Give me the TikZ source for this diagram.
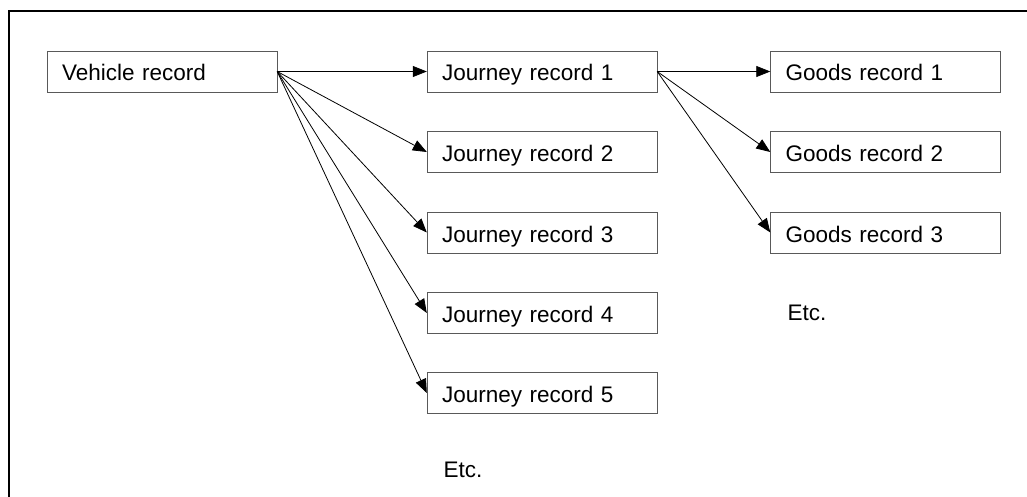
\documentclass[tikz,border=0pt]{standalone}
\usepackage{fontspec}
\setmainfont{Liberation Sans}
\usetikzlibrary{arrows.meta}

\begin{document}
\begin{tikzpicture}[x=1pt,y=1pt,
rec/.style={draw=black!65,rectangle,text width=200pt,inner xsep=15pt,text height=22pt,text depth=3pt,minimum height=41pt,align=left,font=\fontsize{22.5}{27}\selectfont},
lnk/.style={-{Triangle[length=14pt,width=11pt]},black,line width=0.8pt}]
\useasboundingbox (0,0) rectangle (1027,-497);
\draw[line width=2.2pt] (9,-510) -- (9,-11) -- (1040,-11);
\node[rec] (veh) at (162,-71.5) {Vehicle record};
\node[rec] (j1) at (542,-71.5) {Journey record 1};
\node[rec] (j2) at (542,-152) {Journey record 2};
\node[rec] (j3) at (542,-232.5) {Journey record 3};
\node[rec] (j4) at (542,-313) {Journey record 4};
\node[rec] (j5) at (542,-393) {Journey record 5};
\node[rec] (g1) at (885.5,-71.5) {Goods record 1};
\node[rec] (g2) at (885.5,-152) {Goods record 2};
\node[rec] (g3) at (885.5,-232.5) {Goods record 3};
\node[anchor=west,font=\fontsize{22.5}{27}\selectfont] (etcg) at (784,-313) {Etc.};
\node[anchor=west,font=\fontsize{22.5}{27}\selectfont] (etcj) at (440,-470) {Etc.};
\draw[lnk] (veh.east) -- (j1.west);
\draw[lnk] (veh.east) -- (j2.west);
\draw[lnk] (veh.east) -- (j3.west);
\draw[lnk] (veh.east) -- (j4.west);
\draw[lnk] (veh.east) -- (j5.west);
\draw[lnk] (j1.east) -- (g1.west);
\draw[lnk] (j1.east) -- (g2.west);
\draw[lnk] (j1.east) -- (g3.west);
\end{tikzpicture}
\end{document}
